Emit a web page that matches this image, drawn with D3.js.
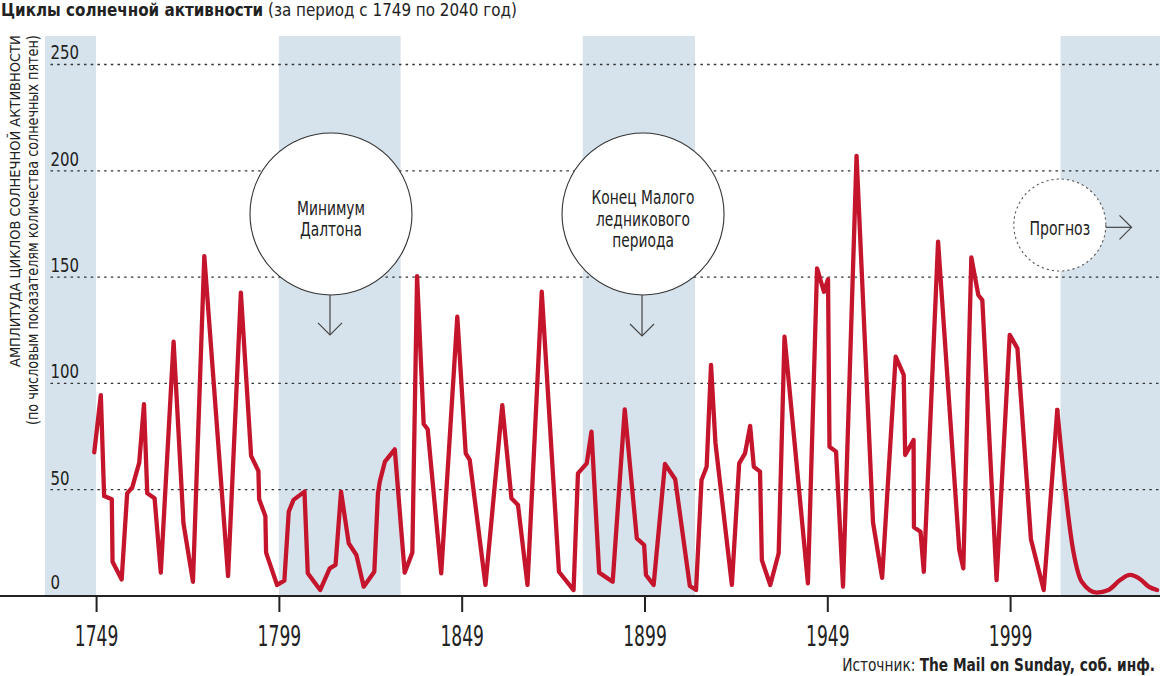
<!DOCTYPE html>
<html><head><meta charset="utf-8">
<script src="https://cdn.jsdelivr.net/npm/d3@7"></script>
<style>
body{margin:0;background:#fff;}
svg{display:block;}
text{font-family:"Liberation Sans Narrow","DejaVu Sans Condensed","Roboto Condensed","Arial Narrow",sans-serif;fill:#222;}
</style></head><body>
<svg id="c" width="1160" height="676"></svg>
<script>
// ---------- DATA ----------
const years = [1748.5,1750.3,1751.2,1753.3,1753.5,1756.0,1757.5,1758.9,1760.8,1762.1,1763.0,1765.0,1766.7,1770.2,1772.9,1775.5,1778.6,1785.1,1788.6,1791.4,1793.4,1793.6,1795.3,1795.5,1798.5,1800.5,1801.7,1803.0,1806.0,1806.9,1810.3,1812.9,1814.5,1816.0,1818.1,1820.2,1822.2,1825.1,1826.1,1826.6,1828.0,1830.7,1833.4,1835.5,1836.8,1838.6,1839.7,1843.4,1847.8,1850.1,1851.2,1855.5,1860.1,1862.6,1864.4,1867.0,1870.9,1875.6,1879.6,1880.8,1883.2,1884.5,1886.6,1890.3,1893.6,1896.9,1898.9,1899.4,1901.5,1904.6,1907.4,1911.4,1913.1,1914.6,1916.0,1917.2,1918.4,1922.9,1924.9,1926.5,1927.9,1928.9,1930.6,1931.1,1933.4,1935.7,1937.3,1943.7,1946.2,1948.1,1949.2,1949.6,1951.4,1953.3,1957.0,1961.5,1964.0,1967.7,1969.9,1970.3,1972.6,1972.7,1974.5,1975.4,1979.3,1985.1,1986.2,1988.4,1990.3,1991.4,1995.3,1998.9,2001.0,2004.7,2008.2,2011.9];
const values = [67.6,94.5,47,45.5,16.1,7.8,48.3,51.1,62.7,90.2,48.3,46,11,119.6,34.2,6.7,159.9,9.4,142.7,65.9,58.8,45.5,37.6,20.4,5.2,7.2,39.7,45.2,49.1,10.7,2.8,13,14.6,49.1,24.8,19.3,4.4,11.4,48.3,53.8,63.2,69,11,20.4,150.5,80.9,78.4,10.7,131.4,67.1,64,5.2,89.8,46,42.8,5.2,143.1,11.4,2.8,57.7,62.4,77.3,11,6.7,87.8,27.1,24,9.9,5.2,62.1,54.9,4.7,2.8,54.6,60.8,108.7,72.1,5.2,62.4,67.1,80,60.8,58.5,16.9,5.2,20.1,122,6,154.1,143.1,149,70.2,67.9,4.4,207,34.6,8.5,112.6,104,66.3,73.4,32.3,30.2,11.4,166.7,21.6,13,159.3,141.6,139.2,7.5,122.8,116.5,26.7,2.8,87.5];
const forecastYears = [2011.9,2016.3,2018.6,2022.7,2025.9,2029.1,2031.8,2034.6,2036.9,2039.2];
const forecastValues = [87.5,21,6.7,1.6,2.8,7.5,9.9,7.9,4.4,2.8];
const xTicks = [1749,1799,1849,1899,1949,1999];
const yTicks = [0,50,100,150,200,250];
const bandStarts = [1735,1799,1882.1,2012.8];
const bandEnds = [1749,1832.3,1912.8,2040];
const titleBold = "Циклы солнечной активности";
const titleRest = " (за период с 1749 по 2040 год)";
const yTitle1 = "АМПЛИТУДА ЦИКЛОВ СОЛНЕЧНОЙ АКТИВНОСТИ";
const yTitle2 = "(по числовым показателям количества солнечных пятен)";
const sourceLabel = "Источник: ";
const sourceBold = "The Mail on Sunday, соб. инф.";
const notes = [
  {year:1813.25, value:179.7, lines:["Минимум","Далтона"], arrowTo:122.8},
  {year:1898.6, value:179.7, lines:["Конец Малого","ледникового","периода"], arrowTo:122.3},
  {year:2012.6, value:174.5, lines:["Прогноз"], arrowToYear:2032.2}
];

// ---------- LAYOUT ----------
const W = 1160, H = 676;
const svg = d3.select("#c");
const x = d3.scaleLinear().domain([1735, 2040]).range([44.9, 1160]);
const y = d3.scaleLinear().domain([0, 250]).range([596, 64.5]);
const plotTop = 36;
const red = "#c5152d";
const ink = "#222";

function fitK(sel, k){
  sel.each(function(){
    const t = d3.select(this); const x0 = +t.attr("x") || 0;
    t.attr("transform", `translate(${x0},0) scale(${k},1) translate(${-x0},0)`);
  });
}
function kFor(node, w){ return w / node.getBBox().width; }

// bands
svg.append("g").selectAll("rect").data(d3.zip(bandStarts, bandEnds)).join("rect")
  .attr("x", d => x(d[0])).attr("width", d => x(d[1]) - x(d[0]))
  .attr("y", plotTop).attr("height", y(0) - plotTop)
  .attr("fill", "#d7e3ec");

// grid lines
svg.append("g").selectAll("line").data(yTicks.filter(v => v > 0)).join("line")
  .attr("x1", 50.5).attr("x2", W).attr("y1", d => y(d)).attr("y2", d => y(d))
  .attr("stroke", "#333").attr("stroke-width", 1.3).attr("stroke-dasharray", "2.5,4.2");

// y tick labels
const yl = svg.append("g").selectAll("text").data(yTicks).join("text")
  .attr("x", 50.5).attr("y", d => y(d) - (d === 0 ? 7 : 5))
  .style("font-size", "19.5px").text(d => d);
const kY = kFor(yl.filter(d => d === 250).node(), 28.6);
fitK(yl, kY);

// annotation circles
const ng = svg.append("g");
notes.forEach((n, i) => {
  const cx = x(n.year), cy = y(n.value);
  const dashed = i === 2;
  const r = dashed ? 46 : 81;
  ng.append("circle").attr("cx", cx).attr("cy", cy).attr("r", r)
    .attr("fill", "#fff").attr("stroke", dashed ? "#555" : "#333")
    .attr("stroke-width", 1.1)
    .attr("stroke-dasharray", dashed ? "2.2,3" : null);
  const fs = i === 0 ? 19.5 : (i === 1 ? 19 : 20);
  const offs = i === 0 ? [1, 22] : (i === 1 ? [-10, 12, 33] : [10]);
  const widths = i === 0 ? 68 : (i === 1 ? 103 : 60.7);
  const tx = ng.selectAll(null).data(n.lines).join("text")
    .attr("x", cx).attr("y", (d, j) => cy + offs[j])
    .attr("text-anchor", "middle").style("font-size", fs + "px").text(d => d);
  const k = kFor(tx.node(), widths);
  fitK(tx, k);
  const ag = ng.append("g").attr("fill", "none").attr("stroke", "#444").attr("stroke-width", 1.2);
  if (n.arrowTo !== undefined) {
    const ax = cx - 1, yEnd = y(n.arrowTo);
    ag.append("line").attr("x1", ax).attr("x2", ax).attr("y1", cy + r).attr("y2", yEnd);
    ag.append("path").attr("d", `M${ax-12},${yEnd-12}L${ax},${yEnd}L${ax+12},${yEnd-12}`);
  } else {
    const yA = cy + 2.3, xEnd = x(n.arrowToYear);
    ag.append("line").attr("x1", cx + r).attr("x2", xEnd).attr("y1", yA).attr("y2", yA);
    ag.append("path").attr("d", `M${xEnd-12},${yA-12}L${xEnd},${yA}L${xEnd-12},${yA+12}`);
  }
});

// data line
const line = d3.line().x(d => x(d[0])).y(d => y(d[1])).curve(d3.curveLinear);
svg.append("path").datum(d3.zip(years, values)).attr("d", line)
  .attr("fill", "none").attr("stroke", red).attr("stroke-width", 4.3)
  .attr("stroke-linejoin", "round").attr("stroke-linecap", "round");
const fline = d3.line().x(d => x(d[0])).y(d => y(d[1])).curve(d3.curveMonotoneX);
svg.append("path").datum(d3.zip(forecastYears, forecastValues)).attr("d", fline)
  .attr("fill", "none").attr("stroke", red).attr("stroke-width", 4.3)
  .attr("stroke-linejoin", "round").attr("stroke-linecap", "round");

// x axis
const xa = svg.append("g").attr("transform", `translate(0,${y(0)})`)
  .call(d3.axisBottom(x).tickValues(xTicks).tickSize(16).tickFormat(d3.format("d")));
xa.select(".domain").remove();
xa.selectAll(".tick line").attr("stroke", ink).attr("stroke-width", 2);
const xt = xa.selectAll(".tick text").attr("y", 50).attr("dy", 0)
  .attr("fill", ink).style("font-size", "28.5px");
xa.attr("font-family", null).attr("font-size", null);
const kX = kFor(xt.node(), 43.6);
fitK(xt, kX);
svg.append("line").attr("x1", 0).attr("x2", W).attr("y1", y(0)).attr("y2", y(0))
  .attr("stroke", ink).attr("stroke-width", 2.2);

// title
const tt = svg.append("text").attr("x", 1).attr("y", 16).style("font-size", "18.5px");
tt.append("tspan").attr("font-weight", "bold").text(titleBold);
tt.append("tspan").text(titleRest);
fitK(tt, kFor(tt.node(), 516));

// y title
const g1 = svg.append("g").attr("transform", "translate(20,367) rotate(-90)");
const t1 = g1.append("text").attr("x", 0).attr("y", 0).style("font-size", "14.5px").text(yTitle1);
fitK(t1, kFor(t1.node(), 332));
const g2 = svg.append("g").attr("transform", "translate(38,425) rotate(-90)");
const t2 = g2.append("text").attr("x", 0).attr("y", 0).style("font-size", "15px").text(yTitle2);
fitK(t2, kFor(t2.node(), 390));

// source
const st = svg.append("text").attr("x", 1155).attr("y", 671).attr("text-anchor", "end").style("font-size", "17.7px");
st.append("tspan").text(sourceLabel);
st.append("tspan").attr("font-weight", "bold").text(sourceBold);
fitK(st, kFor(st.node(), 313));
</script>
</body></html>
